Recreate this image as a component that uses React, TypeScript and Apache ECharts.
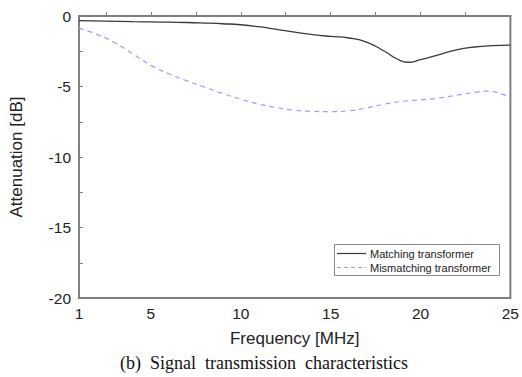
import React, { useEffect, useRef } from "react";
import * as echarts from "echarts";

const freqs = [1, 2.5, 4, 5, 6, 7, 8, 9, 10, 11, 12, 13, 14, 15, 16, 17, 18, 18.7, 19.3, 20, 21, 22, 23, 24, 25];
const matching = [-0.33, -0.36, -0.4, -0.42, -0.44, -0.46, -0.5, -0.55, -0.62, -0.76, -0.95, -1.15, -1.32, -1.45, -1.56, -1.85, -2.5, -3.05, -3.28, -3.1, -2.75, -2.4, -2.2, -2.1, -2.06];

const freqs2 = [1, 2, 3, 4, 5, 6, 7, 8, 9, 10, 11, 12, 13, 14, 15, 16, 17, 18, 19, 20, 21, 22, 23, 23.7, 24.3, 25];
const mismatching = [-0.88, -1.3, -1.9, -2.7, -3.5, -4.1, -4.6, -5.05, -5.5, -5.9, -6.25, -6.5, -6.68, -6.77, -6.78, -6.72, -6.52, -6.25, -6.05, -5.95, -5.82, -5.62, -5.42, -5.33, -5.45, -5.75];

const xLabels = [1, 5, 10, 15, 20, 25];
const xTicks = [2.5, 5, 7.5, 10, 12.5, 15, 17.5, 20, 22.5];
const yLabels = [-20, -15, -10, -5, 0];
const yTicks = [-17.5, -15, -12.5, -10, -7.5, -5, -2.5];

const seriesNames = ["Matching transformer", "Mismatching transformer"];
const caption = "(b)  Signal  transmission  characteristics";

const axisColor = "#7f7f7f";
const blackLine = "#3a3a3a";
const blueLine = "#9c9cff";
const sans = "Arial, 'Liberation Sans', sans-serif";
const serif = "'Times New Roman', 'Liberation Serif', serif";

export default function App() {
  const ref = useRef<HTMLDivElement>(null);
  useEffect(() => {
    if (!ref.current) return;
    const chart = echarts.init(ref.current, null, { renderer: "svg" });
    const lgX = 334, lgY = 244, lgW = 165, lgH = 31;
    chart.setOption({
      animation: false,
      backgroundColor: "#ffffff",
      grid: {
        left: 73,
        top: 16,
        right: 9,
        bottom: 79,
        show: true,
        borderColor: axisColor,
        borderWidth: 2,
        containLabel: false,
      },
      xAxis: {
        type: "value",
        min: 1,
        max: 25,
        name: "Frequency [MHz]",
        nameLocation: "middle",
        nameGap: 32,
        nameTextStyle: { fontSize: 17, color: "#222", fontFamily: sans },
        axisLine: { lineStyle: { color: axisColor, width: 2 } },
        axisTick: {
          show: true,
          inside: true,
          length: 4,
          customValues: xTicks,
          lineStyle: { color: axisColor, width: 1 },
        },
        axisLabel: {
          customValues: xLabels,
          fontSize: 15.5,
          color: "#222",
          fontFamily: sans,
          margin: 7,
        },
        splitLine: { show: false },
      },
      yAxis: {
        type: "value",
        min: -20,
        max: 0,
        name: "Attenuation [dB]",
        nameLocation: "middle",
        nameGap: 54,
        nameTextStyle: { fontSize: 17, color: "#222", fontFamily: sans },
        axisLine: { show: true, lineStyle: { color: axisColor, width: 2 } },
        axisTick: {
          show: true,
          inside: true,
          length: 4,
          customValues: yTicks,
          lineStyle: { color: axisColor, width: 1 },
        },
        axisLabel: {
          customValues: yLabels,
          fontSize: 15.5,
          color: "#222",
          fontFamily: sans,
          margin: 8,
        },
        splitLine: { show: false },
      },
      series: [
        {
          name: seriesNames[0],
          type: "line",
          smooth: true,
          symbol: "none",
          showSymbol: false,
          data: freqs.map((f, i) => [f, matching[i]]),
          lineStyle: { color: blackLine, width: 1.3 },
          itemStyle: { color: blackLine },
        },
        {
          name: seriesNames[1],
          type: "line",
          smooth: true,
          symbol: "none",
          showSymbol: false,
          data: freqs2.map((f, i) => [f, mismatching[i]]),
          lineStyle: { color: blueLine, width: 1.2, type: [5, 4] },
          itemStyle: { color: blueLine },
        },
      ],
      graphic: [
        {
          type: "rect",
          shape: { x: lgX + 0.5, y: lgY + 0.5, width: lgW, height: lgH },
          style: { fill: "#fff", stroke: "#8a8a8a", lineWidth: 1 },
          z: 10,
        },
        {
          type: "line",
          shape: { x1: lgX + 3, y1: lgY + 9.5, x2: lgX + 32, y2: lgY + 9.5 },
          style: { stroke: blackLine, lineWidth: 1.2 },
          z: 11,
        },
        {
          type: "line",
          shape: { x1: lgX + 3, y1: lgY + 23.5, x2: lgX + 32, y2: lgY + 23.5 },
          style: { stroke: blueLine, lineWidth: 1.2, lineDash: [4, 3] },
          z: 11,
        },
        {
          type: "text",
          x: lgX + 36,
          y: lgY + 9.5,
          style: {
            text: seriesNames[0],
            font: `11px ${sans}`,
            fill: "#222",
            verticalAlign: "middle",
          },
          z: 11,
        },
        {
          type: "text",
          x: lgX + 36,
          y: lgY + 23.5,
          style: {
            text: seriesNames[1],
            font: `11px ${sans}`,
            fill: "#222",
            verticalAlign: "middle",
          },
          z: 11,
        },
        {
          type: "text",
          x: 264,
          y: 363,
          style: {
            text: caption,
            font: `18px ${serif}`,
            fill: "#111",
            align: "center",
            verticalAlign: "middle",
          },
        },
      ],
    });
    return () => chart.dispose();
  }, []);
  return (
    <div
      ref={ref}
      style={{ position: "fixed", left: 0, top: 0, width: 522, height: 377 }}
    />
  );
}
